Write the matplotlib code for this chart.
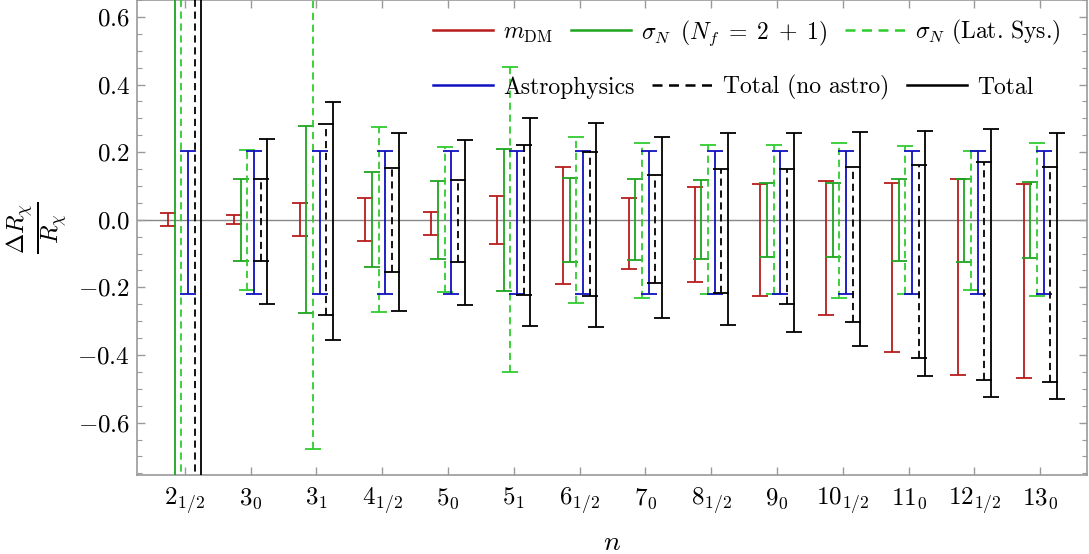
import numpy as np
import matplotlib
matplotlib.use("Agg")
import matplotlib.pyplot as plt
from matplotlib.lines import Line2D
from matplotlib.ticker import MultipleLocator

plt.rcParams["mathtext.fontset"] = "cm"
plt.rcParams["font.family"] = ["cmr10", "DejaVu Serif"]
plt.rcParams["axes.formatter.use_mathtext"] = True

# n labels along the x axis
labels = [r"$2_{1/2}$", r"$3_0$", r"$3_1$", r"$4_{1/2}$", r"$5_0$", r"$5_1$",
          r"$6_{1/2}$", r"$7_0$", r"$8_{1/2}$", r"$9_0$", r"$10_{1/2}$",
          r"$11_0$", r"$12_{1/2}$", r"$13_0$"]

# error bars: (upper, lower) magnitudes of Delta R / R
mdm_up = [0.019, 0.013, 0.050, 0.063, 0.022, 0.071, 0.157, 0.063, 0.098, 0.106, 0.116, 0.108, 0.120, 0.107]
mdm_lo = [0.018, 0.014, 0.049, 0.064, 0.045, 0.072, 0.189, 0.146, 0.185, 0.225, 0.282, 0.391, 0.460, 0.467]

sig_up = [1.20, 0.120, 0.278, 0.141, 0.115, 0.210, 0.123, 0.120, 0.118, 0.110, 0.110, 0.120, 0.121, 0.113]
sig_lo = [1.20, 0.122, 0.275, 0.140, 0.116, 0.211, 0.124, 0.119, 0.117, 0.110, 0.111, 0.122, 0.124, 0.114]

lat_up = [1.50, 0.207, 0.680, 0.273, 0.216, 0.452, 0.246, 0.228, 0.220, 0.220, 0.228, 0.219, 0.204, 0.226]
lat_lo = [1.50, 0.208, 0.677, 0.272, 0.215, 0.451, 0.246, 0.230, 0.220, 0.220, 0.230, 0.221, 0.208, 0.226]

astro_up = [0.204] * 14
astro_lo = [0.219] * 14

totna_up = [1.50, 0.120, 0.282, 0.154, 0.118, 0.221, 0.200, 0.132, 0.151, 0.151, 0.157, 0.162, 0.172, 0.155]
totna_lo = [1.50, 0.122, 0.281, 0.156, 0.124, 0.223, 0.226, 0.187, 0.218, 0.250, 0.302, 0.408, 0.475, 0.480]

tot_up = [1.60, 0.239, 0.348, 0.258, 0.236, 0.302, 0.287, 0.244, 0.256, 0.256, 0.259, 0.263, 0.267, 0.258]
tot_lo = [1.60, 0.248, 0.355, 0.270, 0.253, 0.314, 0.317, 0.290, 0.312, 0.333, 0.374, 0.463, 0.524, 0.529]

yticks = [-0.6, -0.4, -0.2, 0.0, 0.2, 0.4, 0.6]

red = "#b81c1c"
green = "#1ea51e"
lgreen = "#2fcc2f"
blue = "#1010c0"
dash = (0, (4.0, 2.6))

series = [
    (mdm_up, mdm_lo, red, "solid", r"$m_{\mathrm{DM}}$"),
    (sig_up, sig_lo, green, "solid", r"$\sigma_N\;\;(N_f\;=\;2\;+\;1)$"),
    (lat_up, lat_lo, lgreen, dash, r"$\sigma_N$ (Lat. Sys.)"),
    (astro_up, astro_lo, blue, "solid", "Astrophysics"),
    (totna_up, totna_lo, "black", dash, "Total (no astro)"),
    (tot_up, tot_lo, "black", "solid", "Total"),
]

fig = plt.figure(figsize=(10.89, 5.54), dpi=100)
ax = fig.add_axes([137 / 1089, 79 / 554, 950 / 1089, 475 / 554])

x = np.arange(len(labels))
step = 0.1015
ax.axhline(0, color="#888888", lw=1.0, zorder=1)

handles = []
for k, (up, lo, col, ls, lab) in enumerate(series):
    xs = x + (k - 2.5) * step
    eb = ax.errorbar(xs, np.zeros(len(xs)), yerr=[lo, up], fmt="none",
                     ecolor=col, elinewidth=1.3, capsize=5.5, capthick=1.3, zorder=3)
    eb.lines[2][0].set_linestyle(ls)
    handles.append(Line2D([], [], color=col, lw=1.8, linestyle=ls, label=lab))

ax.set_xlim(-0.725, 13.71)
ax.set_ylim(-0.755, 0.65)
ax.set_xticks(x)
ax.set_xticklabels(labels, fontsize=18)
ax.set_yticks(yticks)
ax.set_yticklabels([r"$%.1f$" % v if v >= 0 else r"$-%.1f$" % abs(v) for v in yticks], fontsize=18)
ax.yaxis.set_minor_locator(MultipleLocator(0.05))

for s in ax.spines.values():
    s.set_color("#9a9a9a")
    s.set_linewidth(1.2)
ax.tick_params(which="both", direction="in", top=True, right=True, color="#9a9a9a")
ax.tick_params(which="major", length=6, width=1.0)
ax.tick_params(which="minor", length=3.5, width=0.8)
ax.tick_params(axis="x", which="major", pad=8)
ax.tick_params(axis="y", which="major", pad=5)

ax.set_xlabel(r"$n$", fontsize=20)
ax.xaxis.set_label_coords(0.5, -0.115)
ax.set_ylabel(r"$\frac{\Delta R_\chi}{R_\chi}$", fontsize=25)
ax.yaxis.set_label_coords(-0.071, 0.52)

leg_kw = dict(ncol=3, frameon=False, fontsize=17, handlelength=2.55, handletextpad=0.42,
              columnspacing=0.76, borderpad=0, borderaxespad=0, loc="center left")
leg1 = ax.legend(handles=handles[:3], bbox_to_anchor=(0.3116, 0.931), **leg_kw)
ax.add_artist(leg1)
ax.legend(handles=handles[3:], bbox_to_anchor=(0.3116, 0.8154), **leg_kw)

fig.savefig("out.png", dpi=100)
